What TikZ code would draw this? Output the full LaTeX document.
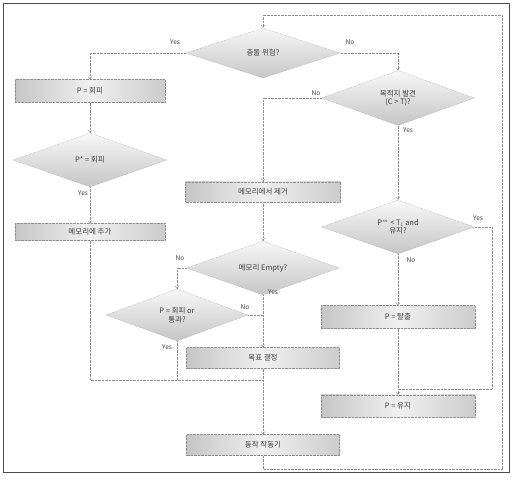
\documentclass[tikz,border=0pt]{standalone}
\usepackage{fontspec}
\setmainfont{Noto Sans CJK KR}
\usepackage{xcolor}
\usetikzlibrary{shapes, arrows.meta, positioning, calc}
\definecolor{fcInk}{RGB}{60, 60, 60}
\definecolor{fcLine}{RGB}{140, 140, 140}

\begin{document}
\begin{tikzpicture}[x=1pt, y=-1pt,
		fc_box/.style   = {draw=fcLine, densely dotted, rectangle, minimum width=153pt,
			minimum height=21pt, inner sep=1pt, align=center, left color=gray!45,
			right color=gray!40, middle color=gray!12, text=fcInk,
			font=\fontsize{7.5}{8.5}\selectfont},
		fc_dec/.style   = {draw=fcLine, densely dotted, diamond, aspect=2.8, inner sep=0pt,
			minimum width=153pt, minimum height=54pt, align=center, top color=gray!6,
			bottom color=gray!45, text=fcInk, font=\fontsize{7.5}{8.5}\selectfont},
		line/.style     = {-{Straight Barb[length=2.5pt,width=4pt]}, densely dotted, fcLine, thin},
		link_line/.style = {densely dotted, fcLine, thin},
		lbl/.style      = {text=fcInk, font=\fontsize{6.5}{7}\selectfont, inner sep=0pt}
		]
		\useasboundingbox (0,0) rectangle (512,481);
		\draw[gray!60!black] (3,3) rectangle (509,472);
		
		% left column
		\node[fc_dec, minimum width=155pt, minimum height=50pt] (collide) at (263,53) {충돌 위험?};
		\node[fc_box, minimum width=150pt, minimum height=23pt] (avoidP) at (90,91) {P = 회피};
		\node[fc_dec, minimum width=154pt] (avoidPs) at (90,160) {P* = 회피};
		\node[fc_box, minimum width=150pt, minimum height=17pt] (memAdd) at (90,232) {메모리에 추가};
		
		% middle column
		\node[fc_box, minimum width=155pt, minimum height=20pt] (memDel) at (263,192) {메모리에서 제거};
		\node[fc_dec] (memEmpty) at (263,268) {메모리 Empty?};
		\node[fc_dec, minimum width=142pt, minimum height=52pt] (dirCheck) at (177,315) {P = 회피 or\\통과?};
		\node[fc_box] (goalSet) at (263,358) {목표 결정};
		\node[fc_box] (actRun) at (263,445) {동작 작동기};
		
		% right column
		\node[fc_dec, minimum height=55pt] (goalFound) at (398,98) {목적지 발견\\(C > T)?};
		\node[fc_dec] (lowCheck) at (398,227) {P$^{m}$ < T$_{l}$ and\\유지?};
		\node[fc_box, minimum width=154pt, minimum height=23pt] (escape) at (398,317) {P = 탈출};
		\node[fc_box, minimum width=154pt, minimum height=22pt] (keep) at (398,406) {P = 유지};
		
		\coordinate (loopR) at (502,15);
		\coordinate (joinA) at (263,380);
		\coordinate (keepIn) at (398,389);
		
		% connectors
		\draw[line] (collide.west) -| (avoidP.north);
		\draw[line] (avoidP) -- (avoidPs);
		\draw[line] (avoidPs) -- (memAdd);
		\draw[link_line] (memAdd.south) |- (joinA);
		\draw[link_line] (dirCheck.south) -- (dirCheck.south |- joinA);
		\draw[line] (collide.east) -- ++(55,0) -| (goalFound.north);
		\draw[line] (goalFound.west) -| (memDel.north);
		\draw[line] (goalFound.south) -- (lowCheck.north);
		\draw[line] (memDel) -- (memEmpty);
		\draw[line] (memEmpty.west) -| (dirCheck.north);
		\draw[line] (memEmpty.south) -- (goalSet.north);
		\draw[link_line] (dirCheck.east) -- (dirCheck.east -| memEmpty.south);
		\draw[line] (goalSet) -- (actRun);
		\draw[line] (actRun.south) -- ++(0,13) -| (loopR) -| (collide.north);
		\draw[line] (lowCheck.east) -- ++(17,0) |- (keepIn) -- (keep.north);
		\draw[line] (lowCheck.south) -- (escape.north);
		\draw[link_line] (escape.south) -- (keepIn);
		
		% branch labels
		\node[lbl] (yes1) at (175,42) {Yes};
		\node[lbl] (no1) at (350,42) {No};
		\node[lbl] (no2) at (316,93) {No};
		\node[lbl] (yes2) at (408,130) {Yes};
		\node[lbl] (yes3) at (83,193) {Yes};
		\node[lbl] (no3) at (180,258) {No};
		\node[lbl] (no4) at (245,307) {No};
		\node[lbl] (yes4) at (273,292) {Yes};
		\node[lbl] (yes5) at (167,347) {Yes};
		\node[lbl] (yes6) at (478,218) {Yes};
		\node[lbl] (no5) at (411,260) {No};
\end{tikzpicture}
\end{document}
